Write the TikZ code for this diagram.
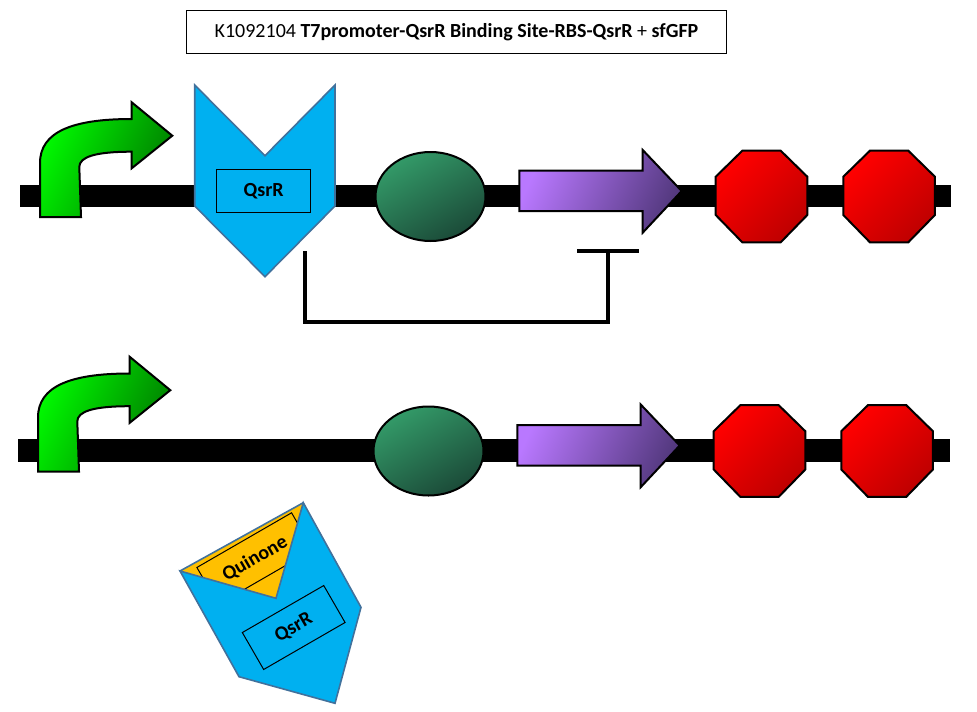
\documentclass[tikz,border=0pt]{standalone}
\usepackage{fontspec}
\setmainfont{Carlito}

\tikzset{every picture/.style={line width=0.75pt}}
\tikzset{
	dnaline/.style={line width=17pt},
	promoter/.style={draw=black,line width=1.5pt,line join=miter,top color=green!98!black,bottom color=green!48!black,shading angle=65},
	binder/.style={draw=binderedge,fill=binderblue,line width=1.2pt,line join=miter},
	rbs/.style={draw=black,line width=1.5pt,top color=rbstop,bottom color=rbsbottom,shading angle=30},
	cds/.style={draw=black,line width=1.5pt,line join=miter,top color=cdstop,bottom color=cdsbottom,shading angle=65},
	stopsign/.style={draw=black,line width=1.5pt,line join=miter,top color=red,bottom color=red!75!black,shading angle=45},
	labelbox/.style={draw=black,line width=0.75pt,inner sep=0pt,font=\fontsize{15}{18}\selectfont\bfseries},
	repress/.style={line width=3pt,line join=miter}
}
\definecolor{binderblue}{HTML}{00B0F0}
\definecolor{binderedge}{HTML}{41719C}
\definecolor{quinonegold}{HTML}{FFC000}
\definecolor{rbstop}{HTML}{339A68}
\definecolor{rbsbottom}{HTML}{1B4A38}
\definecolor{cdstop}{HTML}{B978FF}
\definecolor{cdsbottom}{HTML}{54397F}

\begin{document}
\begin{tikzpicture}[x=0.75pt,y=0.75pt,yscale=-1,xscale=1]
	\useasboundingbox (0,0) rectangle (977,711);

	% Title
	\node [draw=black,line width=0.75pt,minimum width=405.5pt,minimum height=32pt,inner sep=0pt,font=\fontsize{15}{18}\selectfont] (title) at (456.5,32) {K1092104 \textbf{T7promoter-QsrR Binding Site-RBS-QsrR} + \textbf{sfGFP}};

	%Upper strand
	\draw [dnaline] (20,196) -- (951,196);
	%Promoter
	\draw [promoter] (40,217) -- (40,163) .. controls (40,132) and (72,119) .. (131.7,119) -- (131.7,102.3) -- (172.3,135.7) -- (131.7,168.3) -- (131.7,151.7) .. controls (95,151.7) and (79.3,157) .. (79.3,167) -- (81,217) -- cycle ;
	%Binding site
	\draw [binder] (194.7,85) -- (265,155.7) -- (335,85) -- (335,206) -- (265,276.7) -- (194.7,206) -- cycle ;
	\node [labelbox,minimum width=70.5pt,minimum height=32pt] (boundlabel) at (263.7,190.8) {QsrR};
	%RBS
	\draw [rbs] (430.5,196.5) ellipse (55 and 44.5);
	%Coding sequence
	\draw [cds] (519.3,170.7) -- (642.7,170.7) -- (642.7,150) -- (681.7,191) -- (642.7,232.7) -- (642.7,211) -- (519.3,211) -- cycle ;
	%Terminators
	\foreach \tx in {715.7,843.3} {
		\draw [stopsign] (\tx,176.7) -- (\tx+26.6,150.7) -- (\tx+65,150.7) -- (\tx+91.6,176.7) -- (\tx+91.6,215) -- (\tx+65,242.3) -- (\tx+26.6,242.3) -- (\tx,215) -- cycle ;
	}

	%Repression bracket
	\coordinate (repfrom) at (305,251);
	\coordinate (repcorner) at (305,321.5);
	\coordinate (repturn) at (608,321.5);
	\coordinate (repend) at (608,251);
	\coordinate (repbarl) at (577,251);
	\coordinate (repbarr) at (639,251);
	\draw [repress] (repfrom) -- (repcorner) -- (repturn) -- (repend);
	\draw [repress] (repbarl) -- (repbarr);

	%Lower strand
	\draw [dnaline] (18,450.5) -- (950,450.5);
	%Promoter
	\draw [promoter] (38,471.5) -- (38,417.5) .. controls (38,386.5) and (70,373.5) .. (129.7,373.5) -- (129.7,356.8) -- (170.3,390.2) -- (129.7,422.8) -- (129.7,406.2) .. controls (93,406.2) and (77.3,411.5) .. (77.3,421.5) -- (79,471.5) -- cycle ;
	%RBS
	\draw [rbs] (428.5,451) ellipse (55 and 44.5);
	%Coding sequence
	\draw [cds] (517.3,425.2) -- (640.7,425.2) -- (640.7,404.5) -- (679.7,445.5) -- (640.7,487.2) -- (640.7,465.5) -- (517.3,465.5) -- cycle ;
	%Terminators
	\foreach \tx in {713.7,841.3} {
		\draw [stopsign] (\tx,431.2) -- (\tx+26.6,405.2) -- (\tx+65,405.2) -- (\tx+91.6,431.2) -- (\tx+91.6,469.5) -- (\tx+65,496.8) -- (\tx+26.6,496.8) -- (\tx,469.5) -- cycle ;
	}

	%Free QsrR with quinone
	\fill [quinonegold] (180,571) -- (303.3,502.7) -- (276,598.3) -- cycle ;
	\begin{scope}
		\clip (180,571) -- (303.3,502.7) -- (276,598.3) -- cycle ;
		\node [labelbox,rotate=30,minimum width=82pt,minimum height=32pt] (quinonelabel) at (254.9,558.6) {Quinone};
	\end{scope}
	\draw [binder] (180,571) -- (276,598.3) -- (303.3,502.7) -- (361,607.3) -- (335,703.3) -- (239,676.7) -- cycle ;
	\draw [draw=binderedge,line width=1.2pt] (180,571) -- (303.3,502.7);
	\node [labelbox,rotate=30,minimum width=70.5pt,minimum height=32pt] (freelabel) at (293.7,627.5) {QsrR};

\end{tikzpicture}
\end{document}
